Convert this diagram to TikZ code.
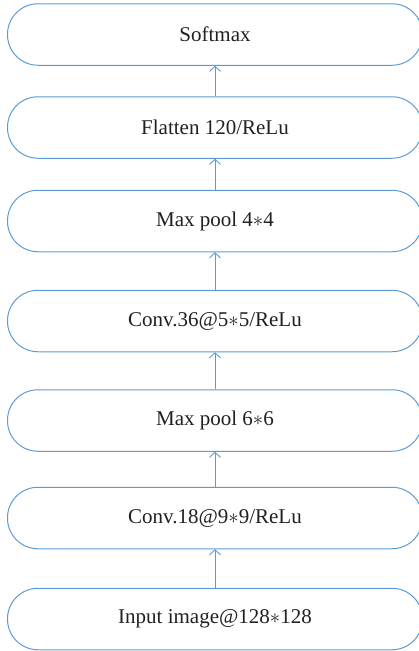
\documentclass[tikz,border=0pt]{standalone}
\usepackage{fontspec}
\setmainfont{Liberation Serif}
\usetikzlibrary{arrows.meta}
\definecolor{boxblue}{RGB}{91,155,213}
\definecolor{txt}{RGB}{35,31,32}
\begin{document}
\begin{tikzpicture}[x=1pt,y=1pt,
  layerbox/.style={draw=boxblue, line width=1pt, rounded corners=30.5pt,
    minimum width=415pt, minimum height=61.5pt, inner sep=0pt,
    font=\fontsize{21}{25}\selectfont, text=txt},
  arr/.style={draw=boxblue, line width=1pt, -{Straight Barb[length=5pt,width=11pt,line width=0.9pt]}}]
\useasboundingbox (0,0) rectangle (419,-651);
\node[layerbox] (b1) at (215,-34.5) {Softmax};
\node[layerbox] (b2) at (215,-127.5) {Flatten 120/ReLu};
\node[layerbox] (b3) at (215,-221) {Max pool 4$\ast$4};
\node[layerbox] (b4) at (215,-321) {Conv.36@5$\ast$5/ReLu};
\node[layerbox] (b5) at (215,-420.5) {Max pool 6$\ast$6};
\node[layerbox] (b6) at (215,-518) {Conv.18@9$\ast$9/ReLu};
\node[layerbox] (b7) at (215,-619) {Input image@128$\ast$128};
\draw[arr] (b7) -- (b6);
\draw[arr] (b6) -- (b5);
\draw[arr] (b5) -- (b4);
\draw[arr] (b4) -- (b3);
\draw[arr] (b3) -- (b2);
\draw[arr] (b2) -- (b1);
\end{tikzpicture}
\end{document}
